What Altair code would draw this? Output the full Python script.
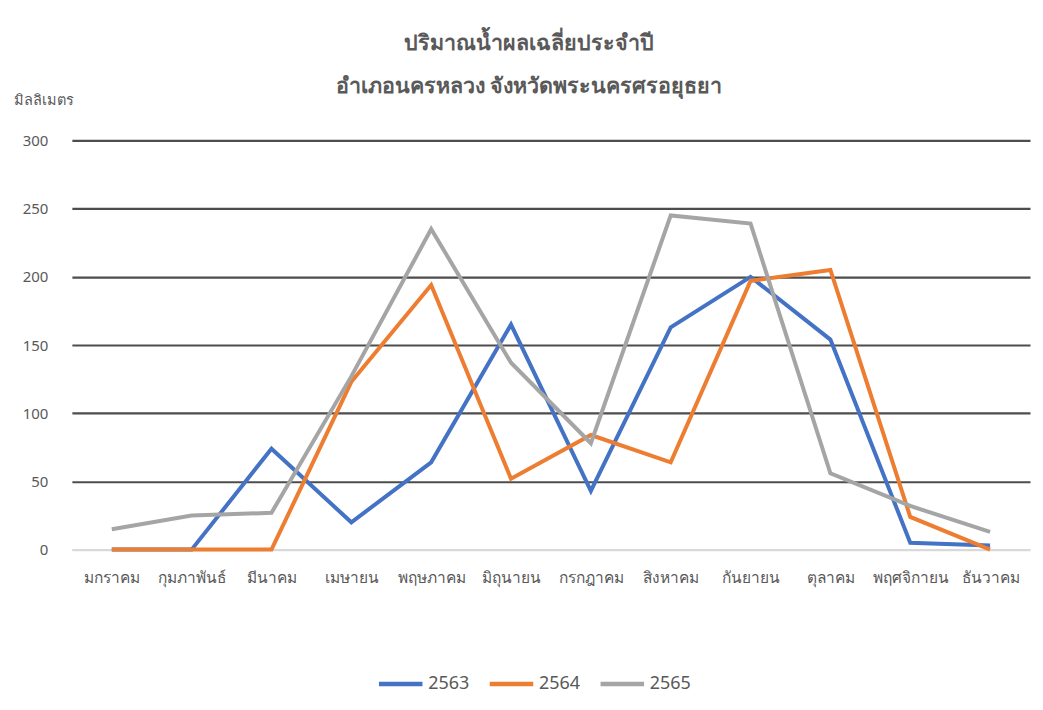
import altair as alt
import pandas as pd

months = ["มกราคม", "กุมภาพันธ์", "มีนาคม", "เมษายน", "พฤษภาคม", "มิถุนายน",
          "กรกฎาคม", "สิงหาคม", "กันยายน", "ตุลาคม", "พฤศจิกายน", "ธันวาคม"]
series = ["2563", "2564", "2565"]
v2563 = [0, 0, 74, 20, 64, 165, 43, 163, 200, 154, 5, 3]
v2564 = [0, 0, 0, 123, 194, 52, 84, 64, 197, 205, 24, 0]
v2565 = [15, 25, 27, 127, 235, 137, 78, 245, 239, 56, 32, 13]
colors = ["#4472C4", "#ED7D31", "#A5A5A5"]
yticks = [0, 50, 100, 150, 200, 250, 300]

rows = []
for s, vals in zip(series, [v2563, v2564, v2565]):
    for m, v in zip(months, vals):
        rows.append({"month": m, "year": s, "value": v})
df = pd.DataFrame(rows)

FONT = "Noto Sans"
TXT = "#595959"

chart = alt.Chart(df).mark_line(strokeWidth=4, strokeJoin="miter").encode(
    x=alt.X("month:N", sort=months, title=None,
            scale=alt.Scale(paddingInner=0, paddingOuter=0.5),
            axis=alt.Axis(labelAngle=0, labelFontSize=15.5, labelColor=TXT, labelFont=FONT,
                          labelPadding=21, ticks=False, domain=True, domainColor="#d9d9d9",
                          domainWidth=1.5, grid=False)),
    y=alt.Y("value:Q", title="มิลลิเมตร",
            scale=alt.Scale(domain=[0, 300], nice=False),
            axis=alt.Axis(values=yticks, labelFontSize=15, labelColor=TXT, labelFont=FONT,
                          labelPadding=24, ticks=False, domain=False,
                          grid=True,
                          gridColor=alt.condition("datum.value == 0", alt.value("#d9d9d9"), alt.value("#4d4d4d")),
                          gridWidth=2.2,
                          titleAngle=0, titleX=-58, titleY=-40, titleAlign="left",
                          titleBaseline="middle", titleFontSize=14.5, titleFontWeight="normal",
                          titleColor=TXT, titleFont=FONT)),
    color=alt.Color("year:N", scale=alt.Scale(domain=series, range=colors),
                    legend=alt.Legend(title=None, orient="none", direction="horizontal",
                                      legendX=305, legendY=520,
                                      symbolType="stroke", symbolSize=1900, symbolStrokeWidth=4.5,
                                      labelFontSize=18, labelColor=TXT, labelFont=FONT,
                                      columnPadding=10, labelOffset=3)),
).properties(
    width=960, height=410,
    title=alt.TitleParams(
        text=["ปริมาณน้ำผลเฉลี่ยประจำปี", "อำเภอนครหลวง จังหวัดพระนครศรอยุธยา"],
        anchor="middle", frame="group", dx=-22, dy=41, fontSize=21.5, fontWeight="bold",
        color=TXT, font=FONT, lineHeight=43, offset=36),
    autosize=alt.AutoSizeParams(type="none"),
    padding={"left": 64, "top": 132, "right": 5, "bottom": 150},
).configure_view(stroke=None)

chart.save("out.html", embed_options={"renderer": "svg", "actions": False})
